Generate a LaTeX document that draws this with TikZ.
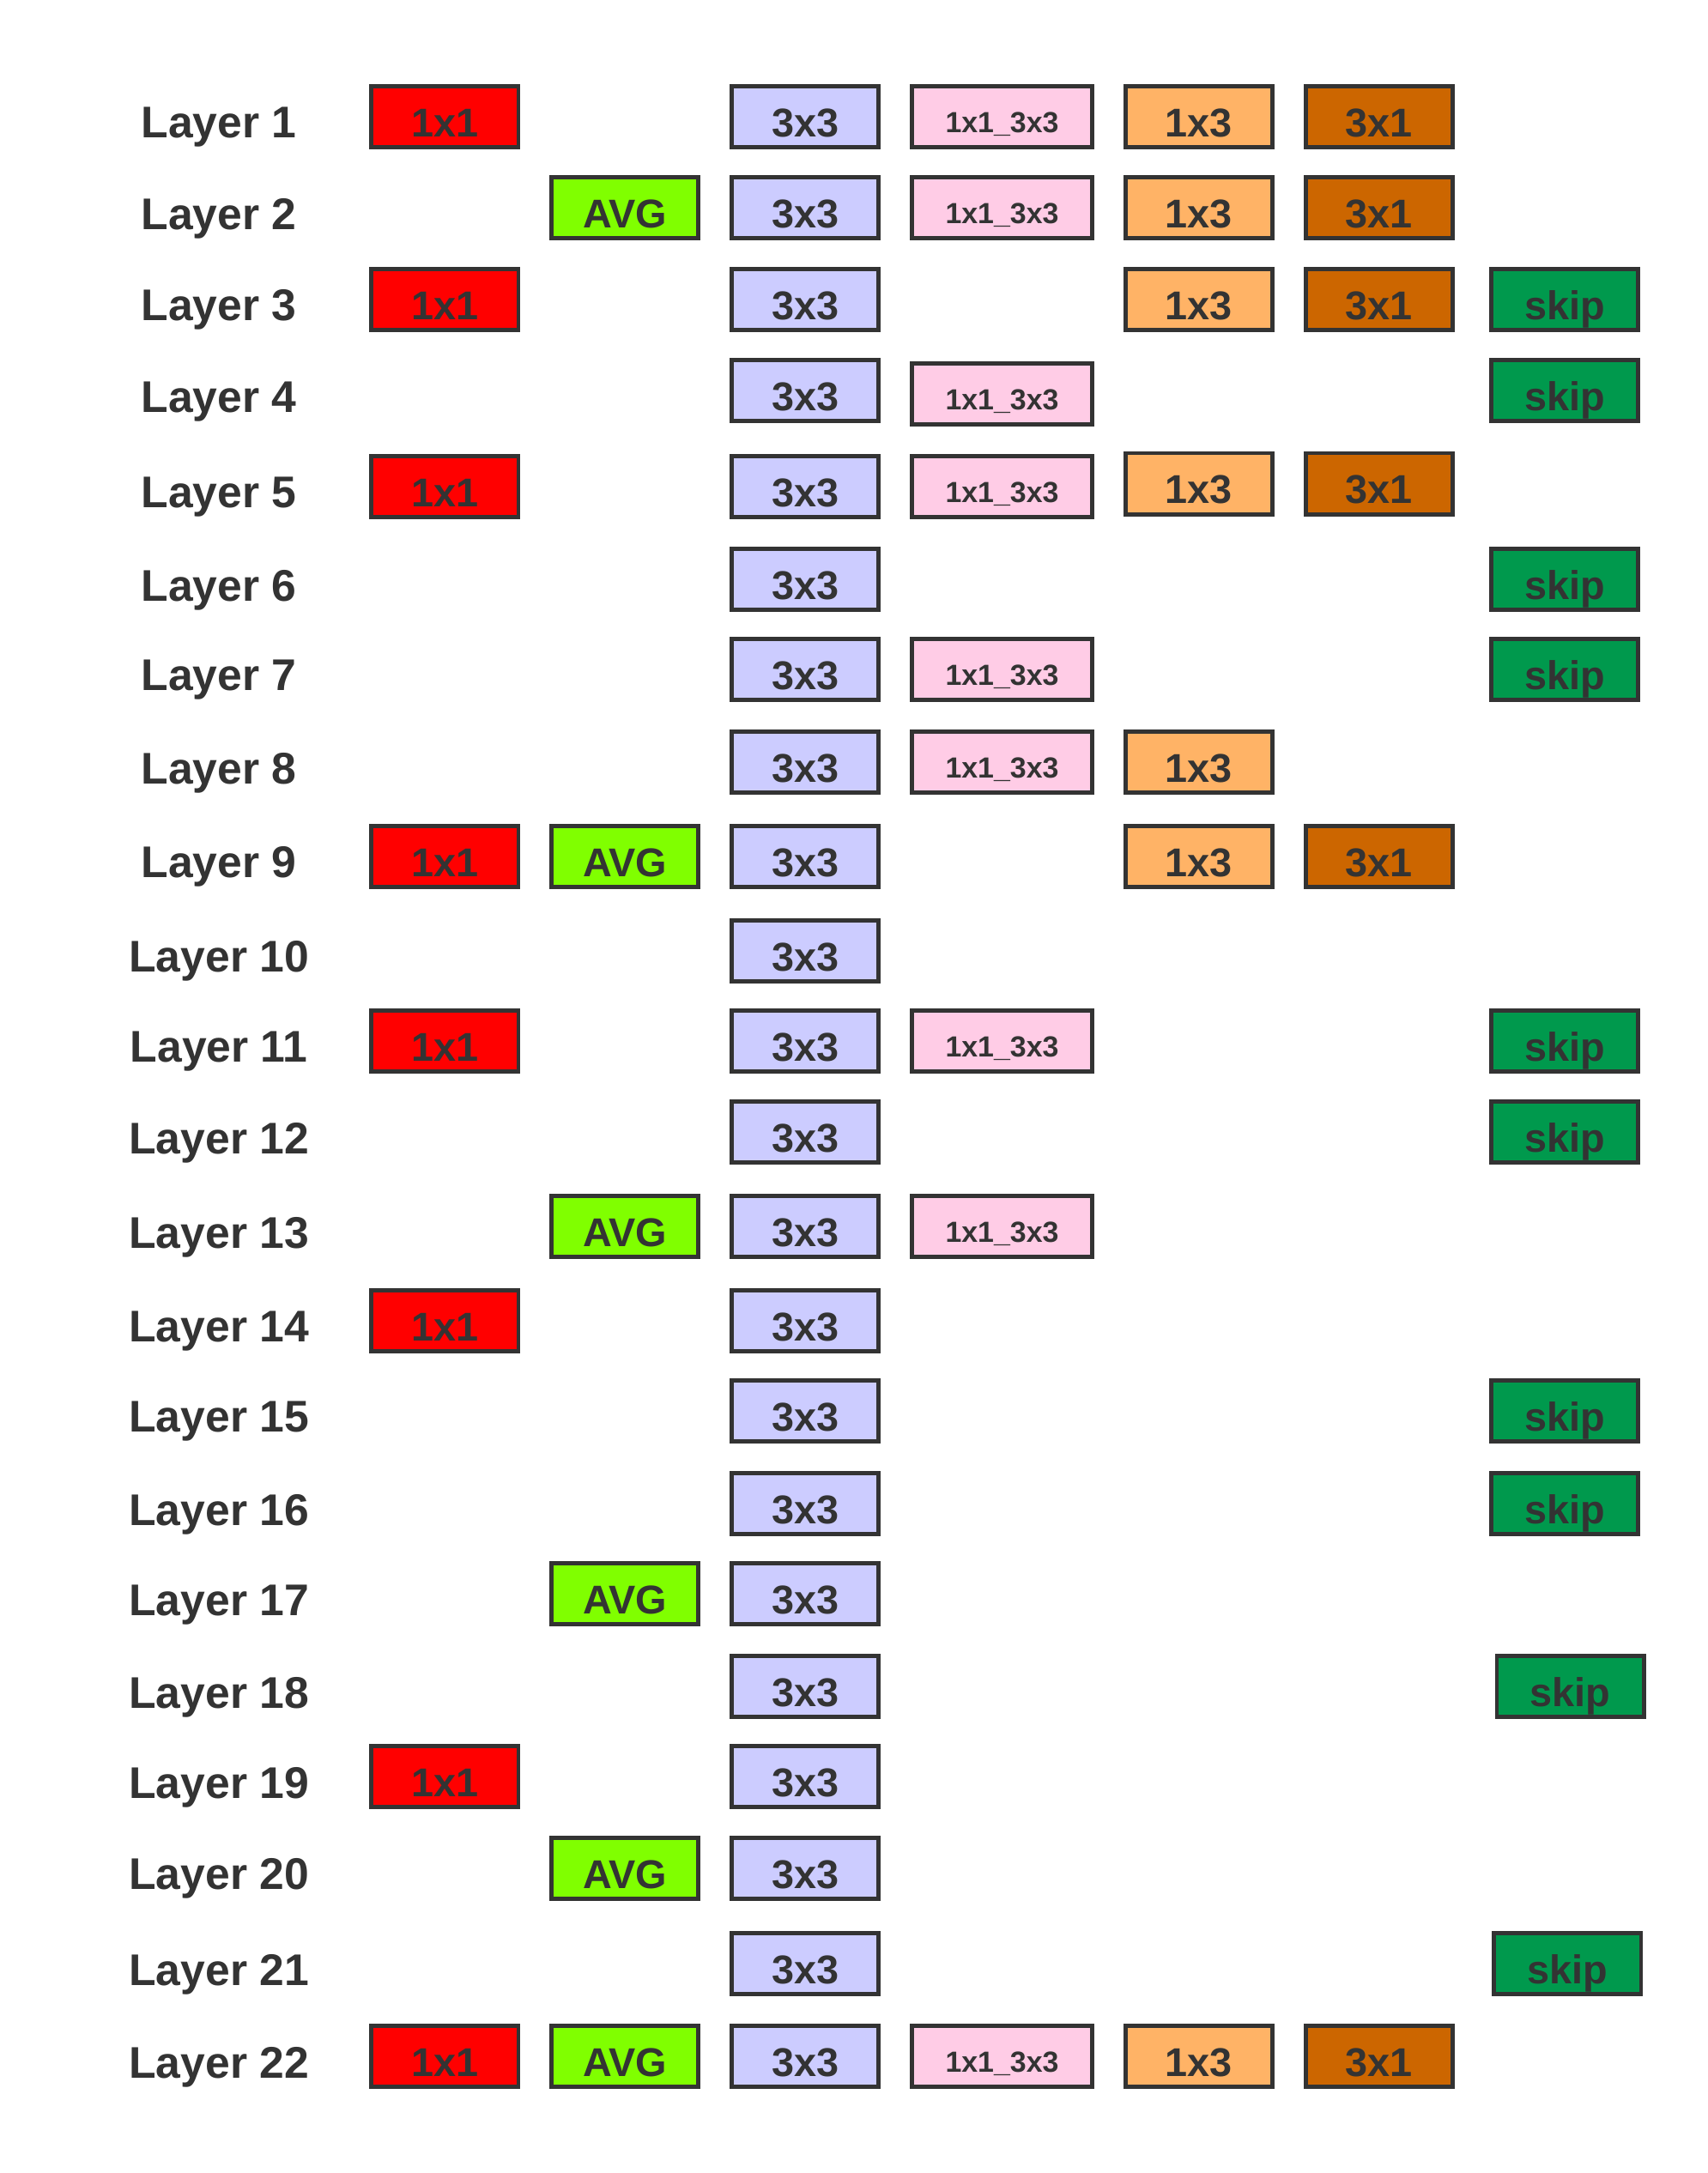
\documentclass[tikz,border=0pt]{standalone}
\usepackage{fontspec}
\setmainfont{Liberation Sans}
\definecolor{edge}{HTML}{333333}
\definecolor{c11}{HTML}{FF0000}
\definecolor{cavg}{HTML}{80FF00}
\definecolor{c33}{HTML}{CCCCFF}
\definecolor{c1133}{HTML}{FFCCE6}
\definecolor{c13}{HTML}{FFB366}
\definecolor{c31}{HTML}{CC6600}
\definecolor{cskip}{HTML}{00994D}
\tikzset{
  opbox/.style={draw=edge, line width=3pt, rectangle, inner sep=0pt,
    minimum width=106pt, minimum height=44pt, text=edge,
    font=\fontsize{29}{29}\selectfont\bfseries, text height=29pt, text depth=0pt},
  k11/.style={opbox, fill=c11},
  kavg/.style={opbox, fill=cavg},
  k33/.style={opbox, fill=c33},
  k1133/.style={opbox, fill=c1133, minimum width=130pt,
    font=\fontsize{21}{21}\selectfont\bfseries, text height=23pt},
  k13/.style={opbox, fill=c13},
  k31/.style={opbox, fill=c31},
  kskip/.style={opbox, fill=cskip},
  lay/.style={text=edge, inner sep=0pt, font=\fontsize{32}{32}\selectfont\bfseries,
    text height=31pt, text depth=0pt}
}
\begin{document}
\begin{tikzpicture}[x=1pt,y=-1pt]
\useasboundingbox (0,0) rectangle (1232,1568);
% columns: 1x1 321, AVG 451, 3x3 581, 1x1_3x3 723, 1x3 865, 3x1 995, skip 1129
% Layer 1
\node[lay] (L1) at (158,84) {Layer 1};
\node[k11] (a1) at (321,84) {1x1};
\node[k33] (c1) at (581,84) {3x3};
\node[k1133] (d1) at (723,84) {1x1\_3x3};
\node[k13] (e1) at (865,84) {1x3};
\node[k31] (f1) at (995,84) {3x1};
% Layer 2
\node[lay] (L2) at (158,150) {Layer 2};
\node[kavg] (b2) at (451,150) {AVG};
\node[k33] (c2) at (581,150) {3x3};
\node[k1133] (d2) at (723,150) {1x1\_3x3};
\node[k13] (e2) at (865,150) {1x3};
\node[k31] (f2) at (995,150) {3x1};
% Layer 3
\node[lay] (L3) at (158,216) {Layer 3};
\node[k11] (a3) at (321,216) {1x1};
\node[k33] (c3) at (581,216) {3x3};
\node[k13] (e3) at (865,216) {1x3};
\node[k31] (f3) at (995,216) {3x1};
\node[kskip] (g3) at (1129,216) {skip};
% Layer 4
\node[lay] (L4) at (158,282) {Layer 4};
\node[k33] (c4) at (581,282) {3x3};
\node[k1133] (d4) at (723,284) {1x1\_3x3};
\node[kskip] (g4) at (1129,282) {skip};
% Layer 5
\node[lay] (L5) at (158,351) {Layer 5};
\node[k11] (a5) at (321,351) {1x1};
\node[k33] (c5) at (581,351) {3x3};
\node[k1133] (d5) at (723,351) {1x1\_3x3};
\node[k13] (e5) at (865,349) {1x3};
\node[k31] (f5) at (995,349) {3x1};
% Layer 6
\node[lay] (L6) at (158,418) {Layer 6};
\node[k33] (c6) at (581,418) {3x3};
\node[kskip] (g6) at (1129,418) {skip};
% Layer 7
\node[lay] (L7) at (158,483) {Layer 7};
\node[k33] (c7) at (581,483) {3x3};
\node[k1133] (d7) at (723,483) {1x1\_3x3};
\node[kskip] (g7) at (1129,483) {skip};
% Layer 8
\node[lay] (L8) at (158,550) {Layer 8};
\node[k33] (c8) at (581,550) {3x3};
\node[k1133] (d8) at (723,550) {1x1\_3x3};
\node[k13] (e8) at (865,550) {1x3};
% Layer 9
\node[lay] (L9) at (158,618) {Layer 9};
\node[k11] (a9) at (321,618) {1x1};
\node[kavg] (b9) at (451,618) {AVG};
\node[k33] (c9) at (581,618) {3x3};
\node[k13] (e9) at (865,618) {1x3};
\node[k31] (f9) at (995,618) {3x1};
% Layer 10
\node[lay] (L10) at (158,686) {Layer 10};
\node[k33] (c10) at (581,686) {3x3};
% Layer 11
\node[lay] (L11) at (158,751) {Layer 11};
\node[k11] (a11) at (321,751) {1x1};
\node[k33] (c11) at (581,751) {3x3};
\node[k1133] (d11) at (723,751) {1x1\_3x3};
\node[kskip] (g11) at (1129,751) {skip};
% Layer 12
\node[lay] (L12) at (158,817) {Layer 12};
\node[k33] (c12) at (581,817) {3x3};
\node[kskip] (g12) at (1129,817) {skip};
% Layer 13
\node[lay] (L13) at (158,885) {Layer 13};
\node[kavg] (b13) at (451,885) {AVG};
\node[k33] (c13) at (581,885) {3x3};
\node[k1133] (d13) at (723,885) {1x1\_3x3};
% Layer 14
\node[lay] (L14) at (158,953) {Layer 14};
\node[k11] (a14) at (321,953) {1x1};
\node[k33] (c14) at (581,953) {3x3};
% Layer 15
\node[lay] (L15) at (158,1018) {Layer 15};
\node[k33] (c15) at (581,1018) {3x3};
\node[kskip] (g15) at (1129,1018) {skip};
% Layer 16
\node[lay] (L16) at (158,1085) {Layer 16};
\node[k33] (c16) at (581,1085) {3x3};
\node[kskip] (g16) at (1129,1085) {skip};
% Layer 17
\node[lay] (L17) at (158,1150) {Layer 17};
\node[kavg] (b17) at (451,1150) {AVG};
\node[k33] (c17) at (581,1150) {3x3};
% Layer 18
\node[lay] (L18) at (158,1217) {Layer 18};
\node[k33] (c18) at (581,1217) {3x3};
\node[kskip] (g18) at (1133,1217) {skip};
% Layer 19
\node[lay] (L19) at (158,1282) {Layer 19};
\node[k11] (a19) at (321,1282) {1x1};
\node[k33] (c19) at (581,1282) {3x3};
% Layer 20
\node[lay] (L20) at (158,1348) {Layer 20};
\node[kavg] (b20) at (451,1348) {AVG};
\node[k33] (c20) at (581,1348) {3x3};
% Layer 21
\node[lay] (L21) at (158,1417) {Layer 21};
\node[k33] (c21) at (581,1417) {3x3};
\node[kskip] (g21) at (1131,1417) {skip};
% Layer 22
\node[lay] (L22) at (158,1484) {Layer 22};
\node[k11] (a22) at (321,1484) {1x1};
\node[kavg] (b22) at (451,1484) {AVG};
\node[k33] (c22) at (581,1484) {3x3};
\node[k1133] (d22) at (723,1484) {1x1\_3x3};
\node[k13] (e22) at (865,1484) {1x3};
\node[k31] (f22) at (995,1484) {3x1};
\end{tikzpicture}
\end{document}
